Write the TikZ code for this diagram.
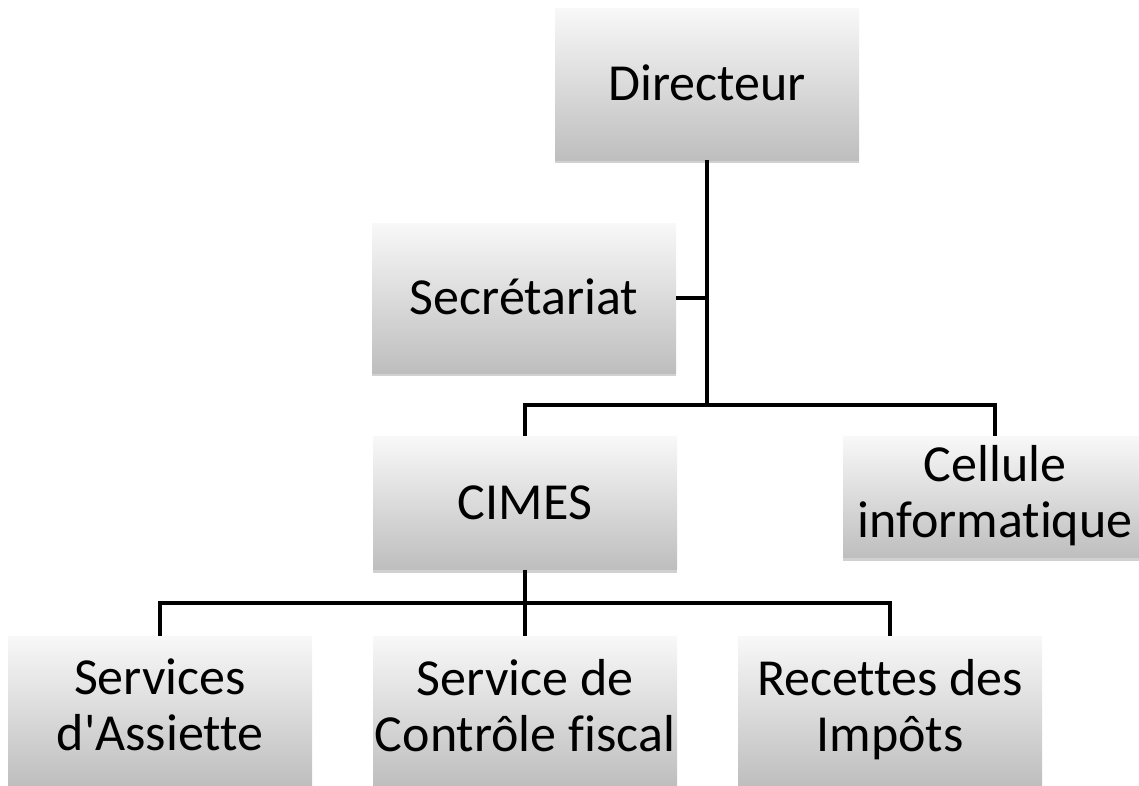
\documentclass[tikz,border=0pt]{standalone}
\usepackage{fontspec}
\setmainfont{Carlito}[Ligatures={NoCommon}]
\usepackage{tikz}
\usetikzlibrary{shadows,positioning}
\definecolor{boxtop}{RGB}{248,248,248}
\definecolor{boxmid}{RGB}{234,234,234}
\definecolor{boxbottom}{RGB}{190,190,190}
\definecolor{linkblack}{RGB}{0,0,0}
\newcommand{\boxstrut}{\rule[-12pt]{0pt}{56pt}}

\begin{document}
\begin{tikzpicture}[x=1pt,y=-1pt,
    orgbox/.style={top color=boxtop,middle color=boxmid,bottom color=boxbottom,
      minimum width=304pt,align=center,inner sep=0pt,
      font=\fontsize{52}{56}\selectfont,
      execute at begin node=\boxstrut,execute at end node=\boxstrut,
      drop shadow={shadow xshift=0pt,shadow yshift=-3pt,opacity=0.18,fill=black}},
    link/.style={line width=3.2pt,linkblack}]
  \useasboundingbox (0,0) rectangle (1139,785);
  \node[orgbox,minimum height=152pt] (dir) at (707,84) {Directeur};
  \node[orgbox,minimum height=150pt] (sec) at (524,298) {Secrétariat};
  \node[orgbox,minimum height=133pt] (cimes) at (525,503) {CIMES};
  \node[orgbox,minimum height=121pt] (cell) at (995,497) {Cellule\\informatique};
  \node[orgbox,minimum height=150pt] (ass) at (160,711) {Services\\d\textquotesingle Assiette};
  \node[orgbox,minimum height=150pt] (ctrl) at (525,711) {Service de\\Contrôle fiscal};
  \node[orgbox,minimum height=150pt] (rec) at (890,711) {Recettes des\\Impôts};
  \coordinate (jn1) at (707,405);
  \coordinate (jn2) at (523,603);
  % links from Directeur
  \draw[link] (dir.south) -- (jn1);
  \draw[link] (sec.east) -- (sec.east -| dir.south);
  \draw[link] (cimes.north) |- (jn1) -| (cell.north);
  % links from CIMES
  \draw[link] (cimes.south) -- (ctrl.north);
  \draw[link] (ass.north) |- (jn2) -| (rec.north);
\end{tikzpicture}
\end{document}
